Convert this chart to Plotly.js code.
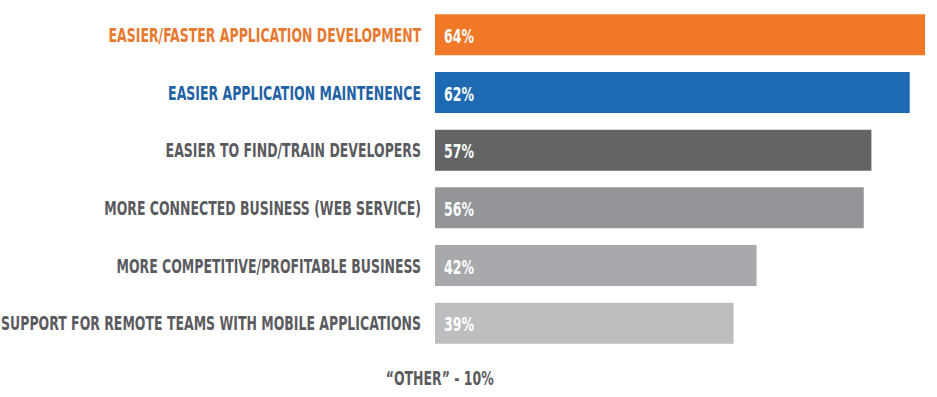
<!DOCTYPE html>
<html>
<head>
<meta charset="utf-8">
<script src="https://cdn.plot.ly/plotly-3.0.1.min.js"></script>
<style>html,body{margin:0;padding:0;background:#fff;}#chart{width:937px;height:397px;}</style>
</head>
<body>
<div id="chart"></div>
<script>
const categories = [
  "EASIER/FASTER APPLICATION DEVELOPMENT",
  "EASIER APPLICATION MAINTENENCE",
  "EASIER TO FIND/TRAIN DEVELOPERS",
  "MORE CONNECTED BUSINESS (WEB SERVICE)",
  "MORE COMPETITIVE/PROFITABLE BUSINESS",
  "SUPPORT FOR REMOTE TEAMS WITH MOBILE APPLICATIONS"
];
const values = [64, 62, 57, 56, 42, 39];
const barColors = ["#F07827", "#1D6AB3", "#636466", "#939598", "#A7A9AC", "#BCBEC0"];
const labelColors = ["#E8792E", "#1F62A6", "#5B5B5F", "#5B5B5F", "#5B5B5F", "#5B5B5F"];
const otherNote = "\u201COTHER\u201D - 10%";

const FONT = "'DejaVu Sans Condensed', 'DejaVu Sans', sans-serif";
const SQUEEZE = 0.695;

const ticktext = categories.map((c, i) => `<span style="color:${labelColors[i]}">${c}</span>`);

const trace = {
  type: 'bar',
  orientation: 'h',
  y: categories,
  x: values,
  marker: { color: barColors },
  width: 0.71,
  hoverinfo: 'none'
};

const annotations = values.map((v, i) => ({
  x: 0, y: categories[i], xref: 'x', yref: 'y',
  text: `${v}%`, showarrow: false,
  xanchor: 'left', xshift: 7, yshift: -1,
  font: { family: FONT, size: 20, weight: 'bold', stretch: 'condensed', color: '#FFFFFF' }
}));
annotations.push({
  x: 0, y: -0.035, xref: 'x', yref: 'paper',
  text: otherNote, showarrow: false,
  xanchor: 'center', yanchor: 'top', xshift: 5,
  font: { family: FONT, size: 20, weight: 'bold', stretch: 'condensed', color: '#5B5B5F' }
});

const layout = {
  width: 937, height: 397,
  margin: { l: 435, r: 12, t: 6, b: 45 },
  paper_bgcolor: '#FFFFFF', plot_bgcolor: '#FFFFFF',
  showlegend: false,
  bargap: 0.29,
  xaxis: { range: [0, 64], showgrid: false, zeroline: false, showticklabels: false, showline: false, fixedrange: true },
  yaxis: {
    type: 'category', autorange: 'reversed',
    tickmode: 'array', tickvals: categories, ticktext: ticktext,
    ticks: 'outside', ticklen: 9, tickcolor: 'rgba(0,0,0,0)',
    showgrid: false, zeroline: false, showline: false,
    tickfont: { family: FONT, size: 20, weight: 'bold', stretch: 'condensed', color: '#5B5B5F' }
  },
  annotations: annotations,
  font: { family: FONT }
};

function squeezeEl(t, s, anchor) {
  const b = t.getBBox();
  const ax = anchor === 'end' ? b.x + b.width : anchor === 'start' ? b.x : b.x + b.width / 2;
  const prev = t.getAttribute('transform') || '';
  t.setAttribute('transform', `${prev} translate(${ax},0) scale(${s},1) translate(${-ax},0)`);
}

Plotly.newPlot('chart', [trace], layout, { displayModeBar: false, staticPlot: true }).then(() => {
  document.querySelectorAll('#chart .ytick text').forEach(t => squeezeEl(t, SQUEEZE, 'end'));
  const ann = document.querySelectorAll('#chart .annotation-text');
  ann.forEach((t, i) => {
    const isNote = i === ann.length - 1;
    squeezeEl(t, SQUEEZE, isNote ? 'middle' : 'start');
  });
});
</script>
</body>
</html>
